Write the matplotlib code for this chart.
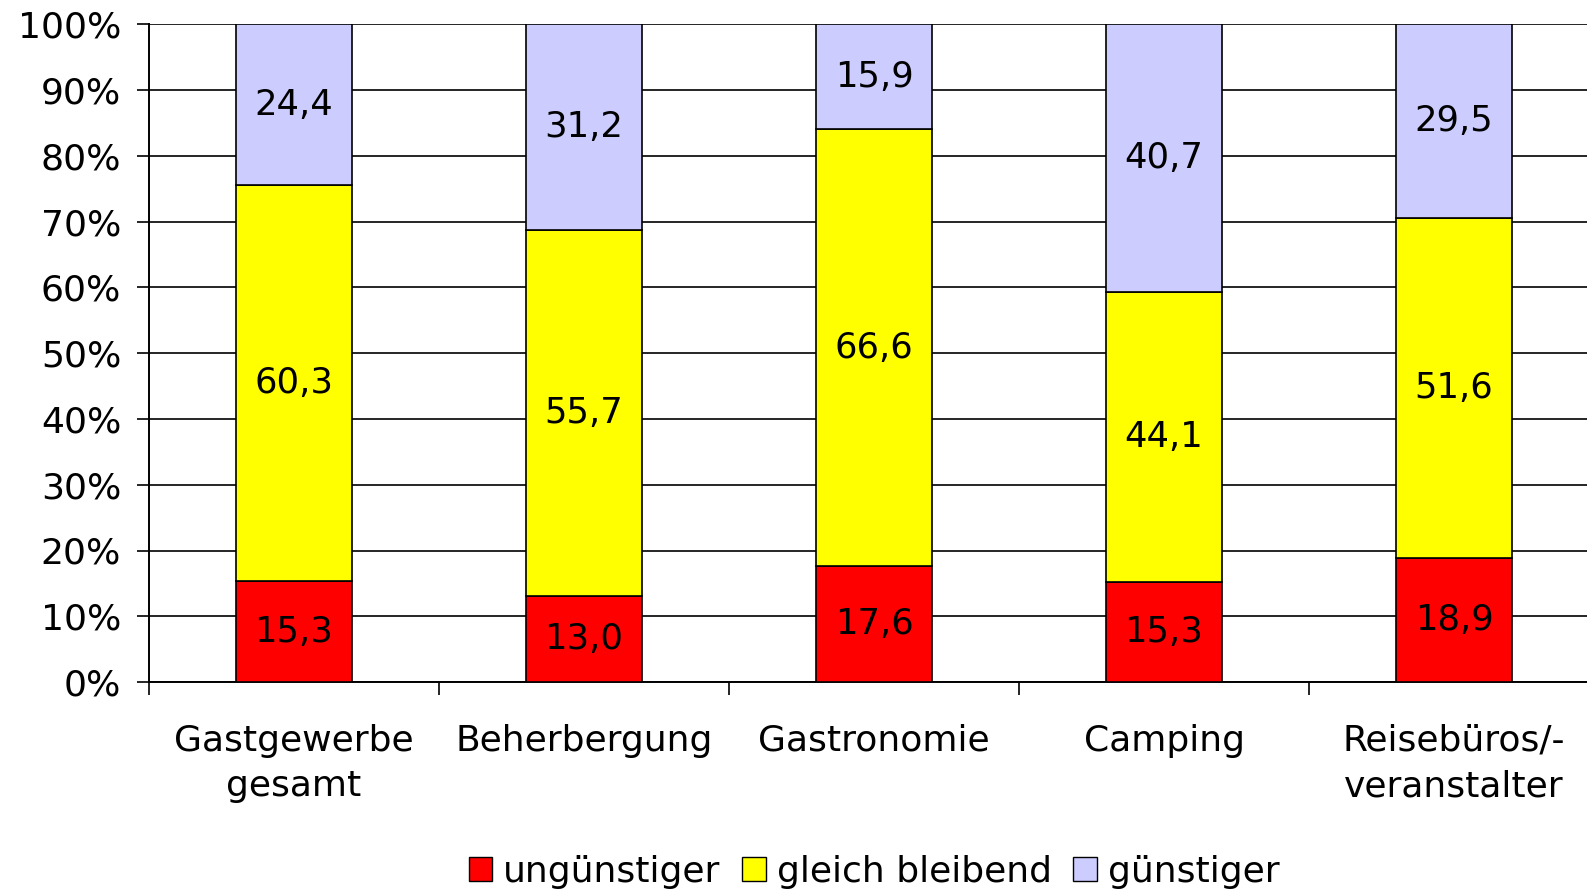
import matplotlib
matplotlib.use("Agg")
import matplotlib.pyplot as plt
import numpy as np
from matplotlib.ticker import FixedLocator, PercentFormatter
from matplotlib.patches import Patch

categories = ["Gastgewerbe\ngesamt", "Beherbergung", "Gastronomie", "Camping", "Reisebüros/-\nveranstalter"]
series_names = ["ungünstiger", "gleich bleibend", "günstiger"]
unguenstiger = [15.3, 13.0, 17.6, 15.3, 18.9]
gleich_bleibend = [60.3, 55.7, 66.6, 44.1, 51.6]
guenstiger = [24.4, 31.2, 15.9, 40.7, 29.5]
yticks = [0, 10, 20, 30, 40, 50, 60, 70, 80, 90, 100]

colors = ["#FF0000", "#FFFF00", "#CCCCFF"]
plt.rcParams['font.family'] = ['DejaVu Sans']

fig = plt.figure(figsize=(15.87, 8.91), dpi=100)
ax = fig.add_axes([149/1587, 1-682/891, 1450/1587, (682-24.5)/891])

data = np.array([unguenstiger, gleich_bleibend, guenstiger])
totals = data.sum(axis=0)
pct = data / totals * 100
x = np.arange(len(categories))
bottom = np.zeros(len(categories))
for i, name in enumerate(series_names):
    ax.bar(x, pct[i], 0.4, bottom=bottom, color=colors[i], edgecolor="black",
           linewidth=1.2, zorder=3, label=name)
    for xi, b, h, v in zip(x, bottom, pct[i], data[i]):
        ax.text(xi, b + h/2, f"{v:.1f}".replace(".", ","), ha="center", va="center",
                fontsize=25.5, zorder=4)
    bottom += pct[i]

ax.set_xlim(-0.5, len(categories) - 0.5)
ax.set_ylim(0, 100)
ax.yaxis.set_major_locator(FixedLocator(yticks))
ax.yaxis.set_major_formatter(PercentFormatter(decimals=0))
ax.grid(axis="y", color="black", linewidth=1.2, zorder=0)
ax.set_axisbelow(True)

ax.set_xticks(x)
ax.set_xticklabels(categories, fontsize=26, linespacing=1.42)
ax.set_xticks(np.arange(len(categories) + 1) - 0.5, minor=True)
ax.tick_params(axis="x", which="major", length=0, pad=30)
ax.tick_params(axis="x", which="minor", length=9, width=1.2, direction="out")
ax.tick_params(axis="y", length=9, width=1.2, labelsize=26, pad=11)

for s in ["top", "right"]:
    ax.spines[s].set_visible(False)
for s in ["left", "bottom"]:
    ax.spines[s].set_linewidth(1.4)

handles = [Patch(facecolor=c, edgecolor="black", linewidth=1.0) for c in colors]
fig.legend(handles, series_names, loc="center", bbox_to_anchor=(874/1587, 1-872/891),
           ncol=3, frameon=False, fontsize=26, handlelength=0.65, handleheight=0.65,
           handletextpad=0.3, columnspacing=0.6)

fig.savefig("out.png", dpi=100)
